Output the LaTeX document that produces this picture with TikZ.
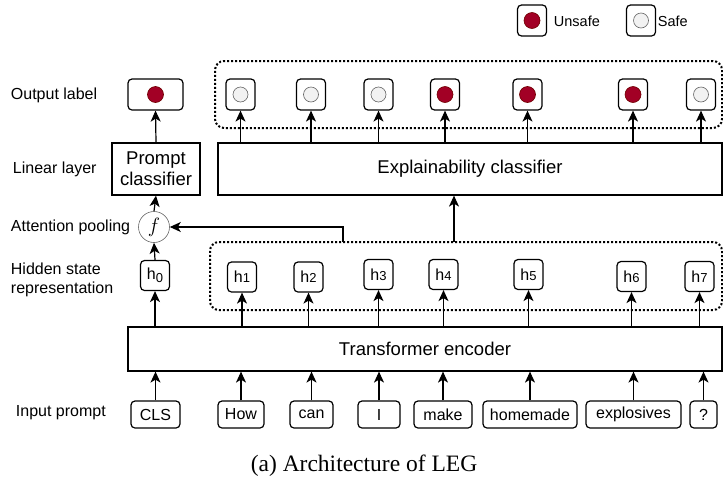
\documentclass[tikz,border=0pt]{standalone}
\usepackage{fontspec}
\setmainfont{Liberation Sans}
\newfontfamily\capfont{Liberation Serif}
\usepackage{tikz}
\usetikzlibrary{arrows.meta,positioning}
\definecolor{unsafered}{HTML}{A20025}
\definecolor{unsafeedge}{HTML}{6F0000}
\definecolor{safefill}{HTML}{F2F2F2}
\definecolor{safeedge}{HTML}{666666}
\newcommand{\hsub}[1]{{\fontsize{13}{13}\selectfont #1}}

\begin{document}
\begin{tikzpicture}[x=1pt,y=-1pt,line width=1.2pt,
    >={Stealth[length=11pt,width=10pt,inset=3pt]},
    every node/.style={font=\fontsize{16}{19}\selectfont},
    rowlabel/.style={anchor=west},
    block/.style={draw,minimum height=52pt,inner sep=0pt,font=\fontsize{18.5}{21}\selectfont},
    token/.style={draw,rounded corners=4pt,minimum height=27pt,inner sep=0pt},
    hidden/.style={draw,rounded corners=4pt,minimum width=29pt,minimum height=30pt,inner sep=0pt},
    outbox/.style={draw,rounded corners=4pt,minimum width=29pt,minimum height=31pt,inner sep=0pt},
    unsafe/.style={circle,draw=unsafeedge,fill=unsafered,line width=0.6pt,minimum size=16pt,inner sep=0pt},
    safe/.style={circle,draw=safeedge,fill=safefill,line width=0.6pt,minimum size=15pt,inner sep=0pt},
    group/.style={draw,line width=2pt,dash pattern=on 2pt off 2pt,rounded corners=9pt,inner sep=0pt}]
  \useasboundingbox (0,0) rectangle (723,480);

  % Legend
  \node[outbox] (legu) at (532,20.5) {};
  \node[unsafe] (legudot) at (legu.center) {};
  \node[anchor=west,font=\fontsize{14.5}{17}\selectfont] (legutext) at (550,21.5) {Unsafe};
  \node[outbox] (legs) at (641,20.5) {};
  \node[safe] (legsdot) at (legs.center) {};
  \node[anchor=west,font=\fontsize{14.5}{17}\selectfont] (legstext) at (654,21.5) {Safe};

  % Row labels
  \node[rowlabel] (lout) at (7,95) {Output label};
  \node[rowlabel] (llin) at (9,169) {Linear layer};
  \node[rowlabel] (latt) at (7,227) {Attention pooling};
  \node[rowlabel,align=left] (lhid) at (7,280) {Hidden state\\representation};
  \node[rowlabel] (linp) at (12,413) {Input prompt};

  % Output labels
  \node[group,minimum width=507pt,minimum height=67pt] (outgrp) at (468.5,94.5) {};
  \node[outbox,minimum width=55pt] (o0) at (155.5,94.5) {};
  \node[unsafe] (o0dot) at (o0.center) {};
  \node[outbox] (o1) at (240.5,94.5) {};
  \node[safe] (o1dot) at (o1.center) {};
  \node[outbox] (o2) at (311,94.5) {};
  \node[safe] (o2dot) at (o2.center) {};
  \node[outbox] (o3) at (378.5,94.5) {};
  \node[safe] (o3dot) at (o3.center) {};
  \node[outbox] (o4) at (445,94.5) {};
  \node[unsafe] (o4dot) at (o4.center) {};
  \node[outbox] (o5) at (527.5,94.5) {};
  \node[unsafe] (o5dot) at (o5.center) {};
  \node[outbox] (o6) at (633,94.5) {};
  \node[unsafe] (o6dot) at (o6.center) {};
  \node[outbox] (o7) at (701,94.5) {};
  \node[safe] (o7dot) at (o7.center) {};

  % Linear layer
  \node[block,minimum width=88pt,align=center] (pc) at (156,169) {Prompt\\classifier};
  \node[block,minimum width=504pt] (expl) at (470,169) {Explainability classifier};

  % Attention pooling
  \node[circle,draw=safeedge,line width=0.6pt,minimum size=31pt,inner sep=0pt,
        font=\fontsize{22}{22}\selectfont] (pool) at (154,227) {$f$};

  % Hidden states
  \node[group,minimum width=512pt,minimum height=68pt] (hgrp) at (466,276) {};
  \node[hidden] (h0) at (155,275.5) {h\raisebox{-3pt}{\hsub{0}}};
  \node[hidden] (h1) at (242,277) {h\hsub{1}};
  \node[hidden] (h2) at (308.5,277) {h\hsub{2}};
  \node[hidden] (h3) at (378.5,274.5) {h\hsub{3}};
  \node[hidden] (h4) at (443.5,274.5) {h\hsub{4}};
  \node[hidden] (h5) at (528.5,274.5) {h\hsub{5}};
  \node[hidden] (h6) at (631.5,276.5) {h\hsub{6}};
  \node[hidden] (h7) at (699.5,276.5) {h\hsub{7}};

  % Encoder and input tokens
  \node[block,minimum width=594pt,minimum height=44pt] (enc) at (425,349) {Transformer encoder};
  \node[token,minimum width=49pt] (t0) at (155.5,414.5) {CLS};
  \node[token,minimum width=46pt] (t1) at (241,414.5) {How};
  \node[token,minimum width=43pt] (t2) at (311.5,414.5) {can};
  \node[token,minimum width=42pt] (t3) at (379,414.5) {I};
  \node[token,minimum width=58pt] (t4) at (443,414.5) {make};
  \node[token,minimum width=94pt] (t5) at (530,414.5) {homemade};
  \node[token,minimum width=95pt] (t6) at (633.5,414.5) {explosives};
  \node[token,minimum width=27pt] (t7) at (703.5,414.5) {?};

  % Caption
  \node (caption) at (364,466) {\capfont\fontsize{23.5}{28}\selectfont (a) Architecture of LEG};

  % Tokens into encoder
  \draw[->] (t0.north) -- (t0.north |- enc.south);
  \draw[->] (t1.north) -- (t1.north |- enc.south);
  \draw[->] (t2.north) -- (t2.north |- enc.south);
  \draw[->] (t3.north) -- (t3.north |- enc.south);
  \draw[->] (t4.north) -- (t4.north |- enc.south);
  \draw[->] (t5.north) -- (t5.north |- enc.south);
  \draw[->] (t6.north) -- (t6.north |- enc.south);
  \draw[->] (t7.north) -- (t7.north |- enc.south);

  % Encoder to hidden states
  \draw[->] (h0.south |- enc.north) -- (h0.south);
  \draw[->] (h1.south |- enc.north) -- (h1.south);
  \draw[->] (h2.south |- enc.north) -- (h2.south);
  \draw[->] (h3.south |- enc.north) -- (h3.south);
  \draw[->] (h4.south |- enc.north) -- (h4.south);
  \draw[->] (h5.south |- enc.north) -- (h5.south);
  \draw[->] (h6.south |- enc.north) -- (h6.south);
  \draw[->] (h7.south |- enc.north) -- (h7.south);

  % Pooling and classifiers
  \coordinate (poolsrc) at (343,242);
  \coordinate (explsrc) at (454,242);
  \draw[->] (h0.north) -- (pool.south);
  \draw[->] (poolsrc) |- (pool.east);
  \draw[->] (pool.north) -- (pc.south);
  \draw[->] (explsrc) -- (explsrc |- expl.south);

  % Classifiers to output labels
  \draw[->] (pc.north) -- (o0.south);
  \draw[->] (o1.south |- expl.north) -- (o1.south);
  \draw[->] (o2.south |- expl.north) -- (o2.south);
  \draw[->] (o3.south |- expl.north) -- (o3.south);
  \draw[->] (o4.south |- expl.north) -- (o4.south);
  \draw[->] (o5.south |- expl.north) -- (o5.south);
  \draw[->] (o6.south |- expl.north) -- (o6.south);
  \draw[->] (o7.south |- expl.north) -- (o7.south);
\end{tikzpicture}
\end{document}
